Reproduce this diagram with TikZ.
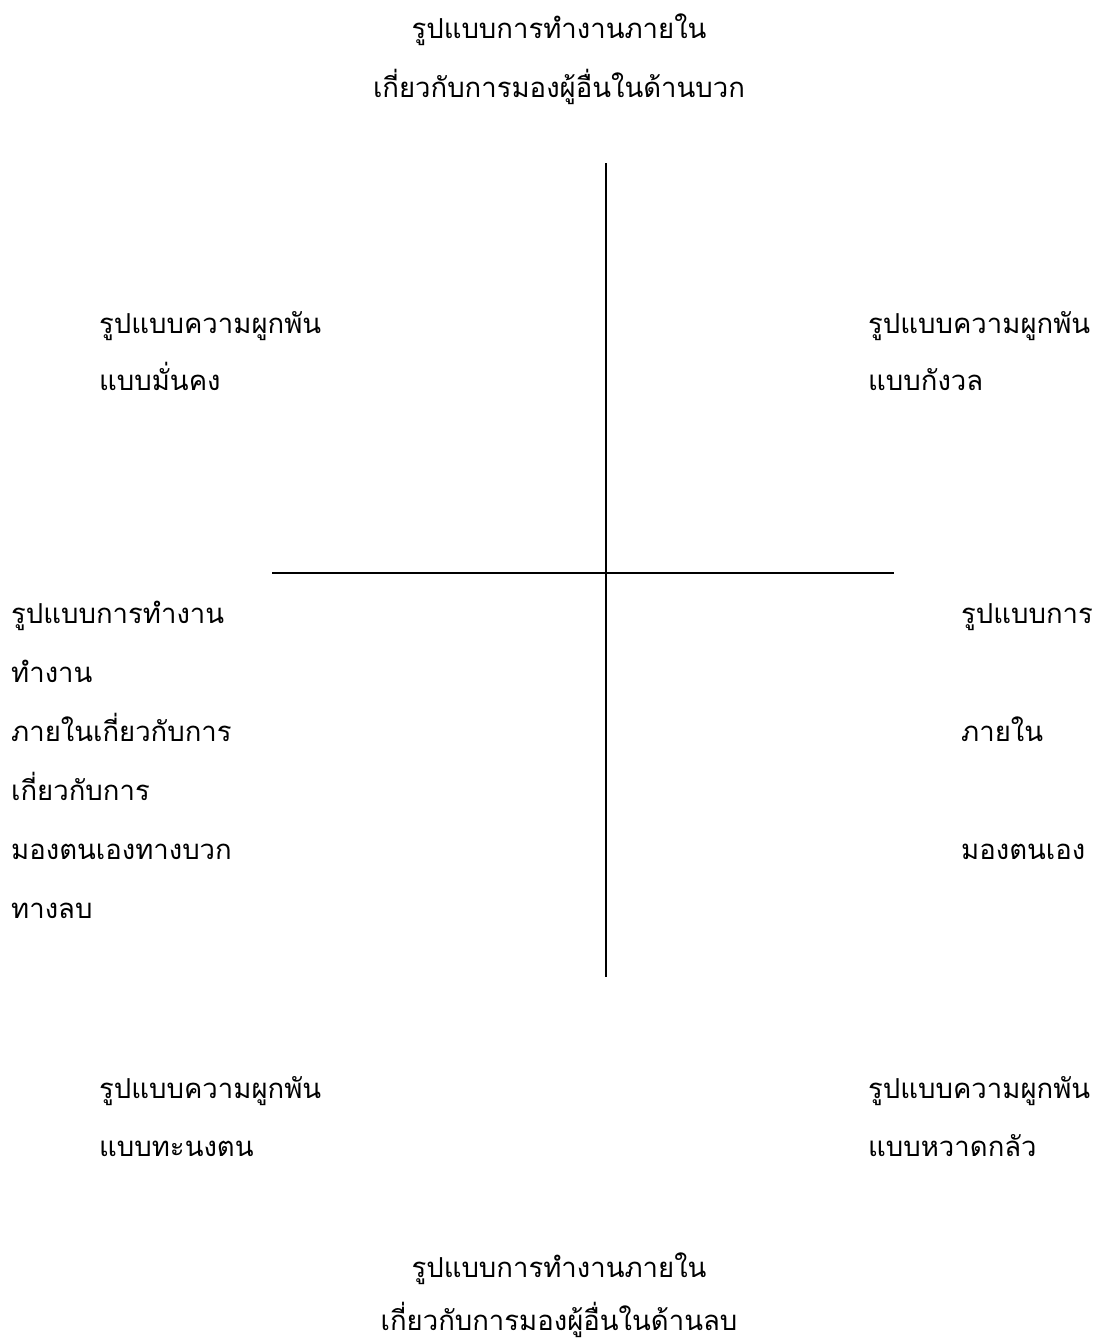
\documentclass[tikz,border=0pt]{standalone}
\usepackage{fontspec}
\newfontfamily\thaifont[Script=Thai]{Loma}
\usetikzlibrary{positioning}

\begin{document}
\begin{tikzpicture}[x=1pt,y=-1pt,every node/.style={font=\thaifont\fontsize{27.5}{34}\selectfont,inner sep=0pt},
  lbl/.style={anchor=base west},ttl/.style={anchor=base}]
\useasboundingbox (0,0) rectangle (1099,1342);
\coordinate (top) at (606,163);
\coordinate (bot) at (606,977);
\coordinate (lft) at (272,573);
\coordinate (rgt) at (894,573);
\draw[line width=1.6pt] (top)--(bot);
\draw[line width=1.6pt] (lft)--(rgt);
% top and bottom
\node[ttl] (t1) at (559,38) {รูปแบบการทำงานภายใน};
\node[ttl] (t2) at (559,97) {เกี่ยวกับการมองผู้อื่นในด้านบวก};
\node[ttl] (b1) at (559,1277) {รูปแบบการทำงานภายใน};
\node[ttl] (b2) at (559,1330) {เกี่ยวกับการมองผู้อื่นในด้านลบ};
% quadrants
\node[lbl] (q1a) at (99,333) {รูปแบบความผูกพัน};
\node[lbl] (q1b) at (99,390) {แบบมั่นคง};
\node[lbl] (q2a) at (868,333) {รูปแบบความผูกพัน};
\node[lbl] (q2b) at (868,390) {แบบกังวล};
\node[lbl] (q3a) at (99,1098) {รูปแบบความผูกพัน};
\node[lbl] (q3b) at (99,1156) {แบบทะนงตน};
\node[lbl] (q4a) at (868,1098) {รูปแบบความผูกพัน};
\node[lbl] (q4b) at (868,1156) {แบบหวาดกลัว};
% left and right
\node[lbl] (l1) at (11,623) {รูปแบบการทำงาน};
\node[lbl] (l2) at (11,682) {ทำงาน};
\node[lbl] (l3) at (11,741) {ภายในเกี่ยวกับการ};
\node[lbl] (l4) at (11,800) {เกี่ยวกับการ};
\node[lbl] (l5) at (11,859) {มองตนเองทางบวก};
\node[lbl] (l6) at (11,918) {ทางลบ};
\node[lbl] (r1) at (961,623) {รูปแบบการ};
\node[lbl] (r3) at (961,741) {ภายใน};
\node[lbl] (r5) at (961,859) {มองตนเอง};
\end{tikzpicture}
\end{document}
